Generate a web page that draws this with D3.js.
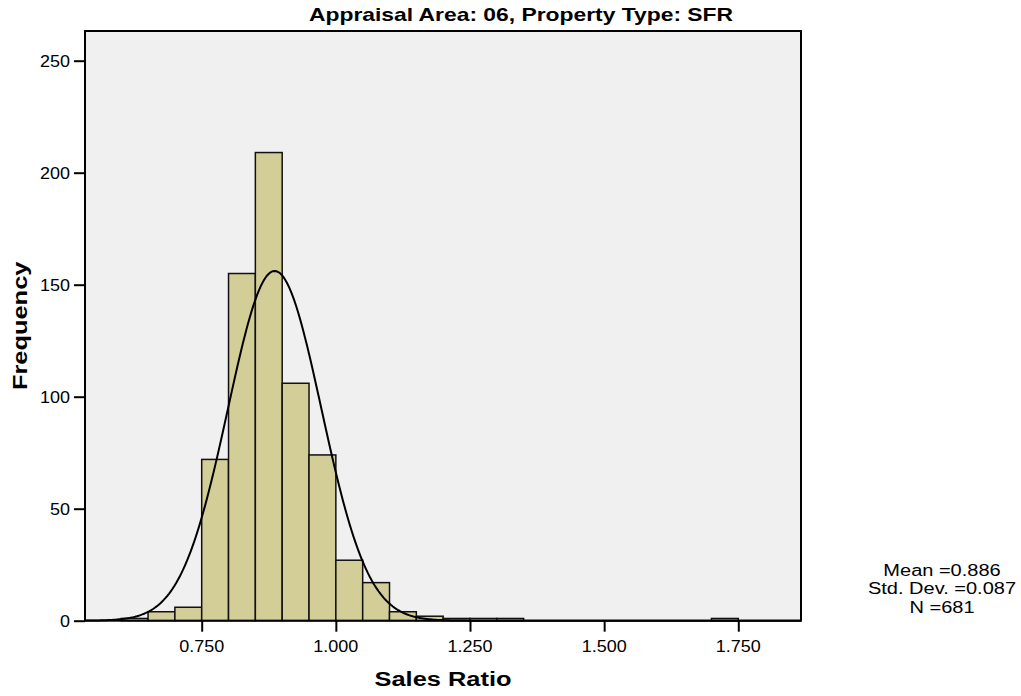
<!DOCTYPE html>
<html>
<head>
<meta charset="utf-8">
<script src="https://cdn.jsdelivr.net/npm/d3@7/dist/d3.min.js"></script>
<style>
  html, body { margin: 0; padding: 0; background: #ffffff; }
  svg { display: block; font-family: "Liberation Sans", Arial, sans-serif; }
</style>
</head>
<body>
<svg id="chart" width="1021" height="696"></svg>
<script>
// Histogram of sales ratios, 0.05-wide bins
const binStarts = [0.60, 0.65, 0.70, 0.75, 0.80, 0.85, 0.90, 0.95, 1.00, 1.05, 1.10, 1.15, 1.20, 1.25, 1.30, 1.70];
const counts    = [1, 4, 6, 72, 155, 209, 106, 74, 27, 17, 4, 2, 1, 1, 1, 1];
const binWidth = 0.05;

const xTicks = [0.75, 1.00, 1.25, 1.50, 1.75];
const yTicks = [0, 50, 100, 150, 200, 250];

const stats = { mean: 0.886, sd: 0.087, n: 681 };
const statLines = ["Mean =0.886", "Std. Dev. =0.087", "N =681"];

const titleText = "Appraisal Area: 06, Property Type: SFR";
const xTitle = "Sales Ratio";
const yTitle = "Frequency";

const svg = d3.select("#chart");

// plot frame
const plot = { left: 85, right: 801, top: 31, bottom: 620.7 };

const x = d3.scaleLinear().domain([0.75, 1.75]).range([201.7, 738.3]);
const y = d3.scaleLinear().domain([0, 250]).range([620.7, 60.7]);

// text drawn slightly wide, as in the exported chart
function wideText(parent, str, px, py, size, sx, opts = {}) {
  return parent.append("text")
    .attr("transform", `translate(${px},${py}) ${opts.rotate ? `rotate(${opts.rotate})` : ""} scale(${sx},1)`)
    .attr("text-anchor", opts.anchor || "middle")
    .style("font-size", size + "px")
    .style("font-weight", opts.bold ? "bold" : "normal")
    .attr("fill", "#000")
    .text(str);
}

// background
svg.append("rect")
  .attr("x", plot.left).attr("y", plot.top)
  .attr("width", plot.right - plot.left)
  .attr("height", plot.bottom - plot.top)
  .attr("fill", "#f0f0f0");

// bars
svg.append("g").selectAll("rect")
  .data(binStarts.map((s, i) => ({ s, c: counts[i] })))
  .join("rect")
  .attr("x", d => x(d.s))
  .attr("y", d => y(d.c))
  .attr("width", d => x(d.s + binWidth) - x(d.s))
  .attr("height", d => y(0) - y(d.c))
  .attr("fill", "#d3ce98")
  .attr("stroke", "#111")
  .attr("stroke-width", 1.5);

// fitted normal curve, scaled to counts
const xMin = x.invert(plot.left), xMax = x.invert(plot.right);
const curvePts = d3.range(0, 401).map(i => {
  const v = xMin + (xMax - xMin) * i / 400;
  const z = (v - stats.mean) / stats.sd;
  const f = stats.n * binWidth * Math.exp(-0.5 * z * z) / (stats.sd * Math.sqrt(2 * Math.PI));
  return [x(v), y(f)];
});
svg.append("path")
  .attr("d", d3.line()(curvePts))
  .attr("fill", "none")
  .attr("stroke", "#000")
  .attr("stroke-width", 2);

// frame border
svg.append("rect")
  .attr("x", plot.left).attr("y", plot.top)
  .attr("width", plot.right - plot.left)
  .attr("height", plot.bottom - plot.top)
  .attr("fill", "none")
  .attr("stroke", "#000")
  .attr("stroke-width", 2);

// axes: ticks from d3, labels drawn wide
const yAxis = d3.axisLeft(y).tickValues(yTicks).tickFormat("").tickSize(11);
const gy = svg.append("g").attr("transform", `translate(${plot.left},0)`).call(yAxis);
gy.select(".domain").remove();

const xAxis = d3.axisBottom(x).tickValues(xTicks).tickFormat("").tickSize(11);
const gx = svg.append("g").attr("transform", `translate(0,${plot.bottom})`).call(xAxis);
gx.select(".domain").remove();

[gx, gy].forEach(g => g.selectAll(".tick line").attr("stroke", "#000").attr("stroke-width", 2));

const fmtX = d3.format(".3f");
xTicks.forEach(v => wideText(svg, fmtX(v), x(v), 651.7, 16.5, 1.09));
yTicks.forEach(v => wideText(svg, String(v), 70, y(v) + 6, 16.5, 1.09, { anchor: "end" }));

// titles
wideText(svg, titleText, 521, 20.5, 18, 1.27, { bold: true });
wideText(svg, xTitle, (plot.left + plot.right) / 2, 686, 20, 1.27, { bold: true });
wideText(svg, yTitle, 26.5, (plot.top + plot.bottom) / 2, 20, 1.27, { bold: true, rotate: -90 });

// summary statistics
statLines.forEach((s, i) => wideText(svg, s, 942, 576 + i * 18.3, 16, 1.25));
</script>
</body>
</html>
